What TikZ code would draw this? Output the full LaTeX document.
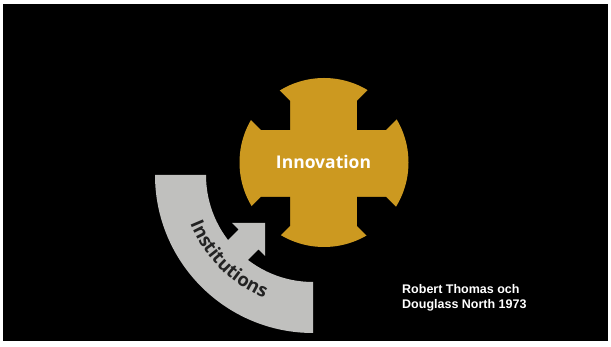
\documentclass[tikz,border=0pt]{standalone}
\usepackage{fontspec}
\setmainfont{Open Sans}
\newfontfamily\arialfont{Liberation Sans}
\usetikzlibrary{decorations.text}
\definecolor{gold}{RGB}{204,153,32}
\definecolor{instgray}{RGB}{192,192,190}
\definecolor{textdark}{RGB}{35,35,35}
\tikzset{
  notch/.style={fill=black},
  band/.style={fill=instgray},
  credit/.style={anchor=base west, inner sep=0pt, text=white,
    font=\arialfont\bfseries\fontsize{12.5}{15}\selectfont}
}
\begin{document}
\begin{tikzpicture}[x=1pt,y=1pt]
\useasboundingbox (0,0) rectangle (611,347);
\fill[white] (0,0) rectangle (611,347);
\fill[black] (3,6) rectangle (608,343);
% gold cross-circle
\fill[gold] (324,184.5) circle (84.5);
\fill[notch] (290,217) -- ++(0,29) -- ++(-80,80) -- ++(-29,-29) -- ++(80,-80) -- cycle;
\fill[notch] (357,217) -- ++(0,29) -- ++(80,80) -- ++(29,-29) -- ++(-80,-80) -- cycle;
\fill[notch] (290,150) -- ++(0,-29) -- ++(-80,-80) -- ++(-29,29) -- ++(80,80) -- cycle;
\fill[notch] (357,150) -- ++(0,-29) -- ++(80,-80) -- ++(29,29) -- ++(-80,80) -- cycle;
\node[text=white, font=\bfseries\fontsize{17.5}{20}\selectfont] (innov) at (323.5,185.5) {Innovation};
% gray institutions band
\fill[band] (155,172) arc[start angle=180,end angle=270,radius=158] -- (313,65)
  arc[start angle=270,end angle=180,radius=107] -- cycle;
\fill[band] (265,124) -- (265,91) -- (258.4,97.6) -- (230.1,69.3) -- (210.3,89.1)
  -- (238.6,117.4) -- (232,124) -- cycle;
\path[decorate, decoration={text along path, text align=center,
  text={|\color{textdark}\bfseries\fontsize{18.5}{20}\selectfont|Institutions}}]
  (313,172) ++(190:132) arc[start angle=190,end angle=260,radius=132];
% credit
\node[credit] (cred1) at (402,53) {Robert Thomas och};
\node[credit] (cred2) at (402,38) {Douglass North 1973};
\end{tikzpicture}
\end{document}
